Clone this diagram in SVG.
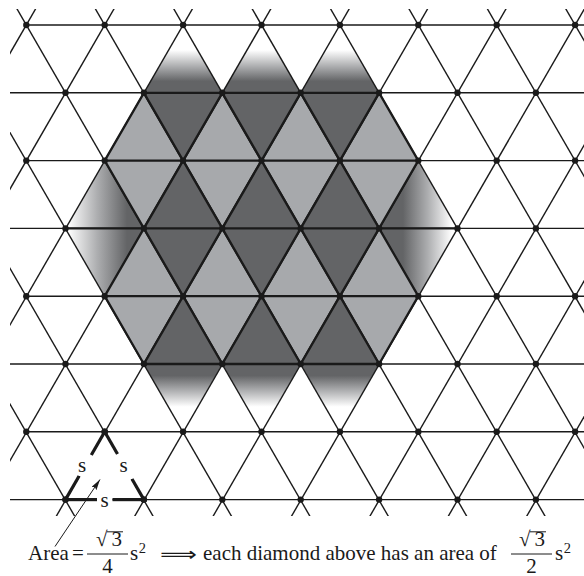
<svg xmlns="http://www.w3.org/2000/svg" width="584" height="576" viewBox="0 0 584 576">
<defs>
<style>
.ln{stroke:#1a1a1a;stroke-width:1.4;fill:none}
.thk{stroke:#1a1a1a;stroke-width:2.3;fill:none}
.lt{fill:#a7a9ac;stroke:#1a1a1a;stroke-width:2.3;stroke-linejoin:round}
.dk{fill:#636466;stroke:#1a1a1a;stroke-width:2.3;stroke-linejoin:round}
.gt{fill:url(#gTop)}
.gb{fill:url(#gBot)}
.nd{fill:#1a1a1a}
.t{font-family:"Liberation Serif","Times New Roman",serif;font-size:21px;fill:#1a1a1a}
.sup{font-family:"Liberation Serif","Times New Roman",serif;font-size:14.5px;fill:#1a1a1a}
.bold{stroke:#1a1a1a;stroke-width:3.2;stroke-linecap:butt;fill:none}
.frac{stroke:#1a1a1a;stroke-width:1}
</style>
<linearGradient id="gTop" gradientUnits="userSpaceOnUse" x1="0" y1="92.8" x2="0" y2="50">
<stop offset="0" stop-color="#636466"/><stop offset="0.27" stop-color="#636466"/><stop offset="0.6" stop-color="#a9aaac"/><stop offset="1" stop-color="#ffffff"/>
</linearGradient>
<linearGradient id="gBot" gradientUnits="userSpaceOnUse" x1="0" y1="364" x2="0" y2="406.8">
<stop offset="0" stop-color="#636466"/><stop offset="0.27" stop-color="#636466"/><stop offset="0.6" stop-color="#a9aaac"/><stop offset="1" stop-color="#ffffff"/>
</linearGradient>
<linearGradient id="gLeft" gradientUnits="userSpaceOnUse" x1="127" y1="0" x2="68" y2="0">
<stop offset="0" stop-color="#636466"/><stop offset="0.5" stop-color="#acadaf"/><stop offset="1" stop-color="#ffffff"/>
</linearGradient>
<linearGradient id="gRight" gradientUnits="userSpaceOnUse" x1="403" y1="0" x2="452" y2="0">
<stop offset="0" stop-color="#636466"/><stop offset="0.5" stop-color="#acadaf"/><stop offset="1" stop-color="#ffffff"/>
</linearGradient>
<clipPath id="clip"><rect x="10" y="9" width="574" height="507"/></clipPath>
<marker id="ah" markerUnits="userSpaceOnUse" markerWidth="12" markerHeight="6" refX="11" refY="3" orient="auto">
<path d="M0,0 L11,3 L0,6 L2,3 z" fill="#1a1a1a"/>
</marker>
</defs>
<rect width="584" height="576" fill="#ffffff"/>

<g id="faded-halves">
<polygon class="gt" points="183.1,25 143.9,92.8 222.3,92.8"/>
<polygon class="gt" points="261.5,25 222.3,92.8 300.7,92.8"/>
<polygon class="gt" points="339.9,25 300.7,92.8 379.1,92.8"/>
<polygon class="gb" points="143.9,364 222.3,364 183.1,431.8"/>
<polygon class="gb" points="222.3,364 300.7,364 261.5,431.8"/>
<polygon class="gb" points="300.7,364 379.1,364 339.9,431.8"/>
<polygon fill="url(#gLeft)" points="104.7,160.6 143.9,228.4 104.7,296.2 65.5,228.4"/>
<polygon fill="url(#gRight)" points="418.3,160.6 457.5,228.4 418.3,296.2 379.1,228.4"/>
</g>

<g id="lattice" class="ln" clip-path="url(#clip)">
<line x1="26.3" y1="25" x2="584" y2="25"/>
<line x1="10" y1="92.8" x2="584" y2="92.8"/>
<line x1="26.3" y1="160.6" x2="584" y2="160.6"/>
<line x1="10" y1="228.4" x2="584" y2="228.4"/>
<line x1="26.3" y1="296.2" x2="584" y2="296.2"/>
<line x1="10" y1="364" x2="584" y2="364"/>
<line x1="26.3" y1="431.8" x2="584" y2="431.8"/>
<line x1="10" y1="499.6" x2="584" y2="499.6"/>
<line x1="-223.33" y1="0" x2="82.66" y2="530"/>
<line x1="-144.93" y1="0" x2="161.06" y2="530"/>
<line x1="-66.53" y1="0" x2="239.46" y2="530"/>
<line x1="11.87" y1="0" x2="317.86" y2="530"/>
<line x1="90.27" y1="0" x2="396.26" y2="530"/>
<line x1="168.67" y1="0" x2="474.66" y2="530"/>
<line x1="247.07" y1="0" x2="553.06" y2="530"/>
<line x1="325.47" y1="0" x2="631.46" y2="530"/>
<line x1="403.87" y1="0" x2="709.86" y2="530"/>
<line x1="482.27" y1="0" x2="788.26" y2="530"/>
<line x1="560.67" y1="0" x2="866.66" y2="530"/>
<line x1="40.73" y1="0" x2="-265.26" y2="530"/>
<line x1="119.13" y1="0" x2="-186.86" y2="530"/>
<line x1="197.53" y1="0" x2="-108.46" y2="530"/>
<line x1="275.93" y1="0" x2="-30.06" y2="530"/>
<line x1="354.33" y1="0" x2="48.34" y2="530"/>
<line x1="432.73" y1="0" x2="126.74" y2="530"/>
<line x1="511.13" y1="0" x2="205.14" y2="530"/>
<line x1="589.53" y1="0" x2="283.54" y2="530"/>
<line x1="667.93" y1="0" x2="361.94" y2="530"/>
<line x1="746.33" y1="0" x2="440.34" y2="530"/>
<line x1="824.73" y1="0" x2="518.74" y2="530"/>
</g>

<g id="light-diamonds">
<polygon class="lt" points="143.9,92.8 183.1,160.6 143.9,228.4 104.7,160.6"/>
<polygon class="lt" points="222.3,92.8 261.5,160.6 222.3,228.4 183.1,160.6"/>
<polygon class="lt" points="300.7,92.8 339.9,160.6 300.7,228.4 261.5,160.6"/>
<polygon class="lt" points="379.1,92.8 418.3,160.6 379.1,228.4 339.9,160.6"/>
<polygon class="lt" points="143.9,228.4 183.1,296.2 143.9,364 104.7,296.2"/>
<polygon class="lt" points="222.3,228.4 261.5,296.2 222.3,364 183.1,296.2"/>
<polygon class="lt" points="300.7,228.4 339.9,296.2 300.7,364 261.5,296.2"/>
<polygon class="lt" points="379.1,228.4 418.3,296.2 379.1,364 339.9,296.2"/>
</g>

<g id="dark-diamonds">
<polygon class="dk" points="183.1,160.6 222.3,228.4 183.1,296.2 143.9,228.4"/>
<polygon class="dk" points="261.5,160.6 300.7,228.4 261.5,296.2 222.3,228.4"/>
<polygon class="dk" points="339.9,160.6 379.1,228.4 339.9,296.2 300.7,228.4"/>
<polygon class="dk" points="143.9,92.8 222.3,92.8 183.1,160.6"/>
<polygon class="dk" points="222.3,92.8 300.7,92.8 261.5,160.6"/>
<polygon class="dk" points="300.7,92.8 379.1,92.8 339.9,160.6"/>
<polygon class="dk" points="183.1,296.2 143.9,364 222.3,364"/>
<polygon class="dk" points="261.5,296.2 222.3,364 300.7,364"/>
<polygon class="dk" points="339.9,296.2 300.7,364 379.1,364"/>
</g>

<g id="inner-edges" class="thk">
<line x1="104.7" y1="160.6" x2="418.3" y2="160.6"/>
<line x1="65.5" y1="228.4" x2="457.5" y2="228.4"/>
<line x1="104.7" y1="296.2" x2="418.3" y2="296.2"/>
</g>

<g id="nodes" class="nd">
<circle cx="26.3" cy="25" r="3.2"/><circle cx="104.7" cy="25" r="3.2"/><circle cx="183.1" cy="25" r="3.2"/><circle cx="261.5" cy="25" r="3.2"/><circle cx="339.9" cy="25" r="3.2"/><circle cx="418.3" cy="25" r="3.2"/><circle cx="496.7" cy="25" r="3.2"/><circle cx="575.1" cy="25" r="3.2"/>
<circle cx="65.5" cy="92.8" r="3.2"/><circle cx="143.9" cy="92.8" r="3.2"/><circle cx="222.3" cy="92.8" r="3.2"/><circle cx="300.7" cy="92.8" r="3.2"/><circle cx="379.1" cy="92.8" r="3.2"/><circle cx="457.5" cy="92.8" r="3.2"/><circle cx="535.9" cy="92.8" r="3.2"/>
<circle cx="26.3" cy="160.6" r="3.2"/><circle cx="104.7" cy="160.6" r="3.2"/><circle cx="183.1" cy="160.6" r="3.2"/><circle cx="261.5" cy="160.6" r="3.2"/><circle cx="339.9" cy="160.6" r="3.2"/><circle cx="418.3" cy="160.6" r="3.2"/><circle cx="496.7" cy="160.6" r="3.2"/><circle cx="575.1" cy="160.6" r="3.2"/>
<circle cx="65.5" cy="228.4" r="3.2"/><circle cx="143.9" cy="228.4" r="3.2"/><circle cx="222.3" cy="228.4" r="3.2"/><circle cx="300.7" cy="228.4" r="3.2"/><circle cx="379.1" cy="228.4" r="3.2"/><circle cx="457.5" cy="228.4" r="3.2"/><circle cx="535.9" cy="228.4" r="3.2"/>
<circle cx="26.3" cy="296.2" r="3.2"/><circle cx="104.7" cy="296.2" r="3.2"/><circle cx="183.1" cy="296.2" r="3.2"/><circle cx="261.5" cy="296.2" r="3.2"/><circle cx="339.9" cy="296.2" r="3.2"/><circle cx="418.3" cy="296.2" r="3.2"/><circle cx="496.7" cy="296.2" r="3.2"/><circle cx="575.1" cy="296.2" r="3.2"/>
<circle cx="65.5" cy="364" r="3.2"/><circle cx="143.9" cy="364" r="3.2"/><circle cx="222.3" cy="364" r="3.2"/><circle cx="300.7" cy="364" r="3.2"/><circle cx="379.1" cy="364" r="3.2"/><circle cx="457.5" cy="364" r="3.2"/><circle cx="535.9" cy="364" r="3.2"/>
<circle cx="26.3" cy="431.8" r="3.2"/><circle cx="104.7" cy="431.8" r="3.2"/><circle cx="183.1" cy="431.8" r="3.2"/><circle cx="261.5" cy="431.8" r="3.2"/><circle cx="339.9" cy="431.8" r="3.2"/><circle cx="418.3" cy="431.8" r="3.2"/><circle cx="496.7" cy="431.8" r="3.2"/><circle cx="575.1" cy="431.8" r="3.2"/>
<circle cx="65.5" cy="499.6" r="3.2"/><circle cx="143.9" cy="499.6" r="3.2"/><circle cx="222.3" cy="499.6" r="3.2"/><circle cx="300.7" cy="499.6" r="3.2"/><circle cx="379.1" cy="499.6" r="3.2"/><circle cx="457.5" cy="499.6" r="3.2"/><circle cx="535.9" cy="499.6" r="3.2"/>
</g>

<g id="unit-triangle">
<rect x="76" y="455" width="18" height="21" fill="#ffffff"/>
<rect x="115" y="454" width="20" height="25" fill="#ffffff"/>
<rect x="97" y="496" width="15.5" height="7" fill="#ffffff"/>
<line class="bold" x1="104.7" y1="431.8" x2="91.3" y2="455"/>
<line class="bold" x1="79.1" y1="476" x2="65.5" y2="499.6"/>
<line class="bold" x1="104.7" y1="431.8" x2="117.5" y2="454"/>
<line class="bold" x1="132" y1="479" x2="143.9" y2="499.6"/>
<line class="bold" x1="65.5" y1="499.6" x2="97" y2="499.6"/>
<line class="bold" x1="112.5" y1="499.6" x2="143.9" y2="499.6"/>
<circle class="nd" cx="104.7" cy="431.8" r="3.2"/>
<circle class="nd" cx="65.5" cy="499.6" r="3.2"/>
<circle class="nd" cx="143.9" cy="499.6" r="3.2"/>
<text class="t" x="82" y="471.5" text-anchor="middle">s</text>
<text class="t" x="123.5" y="471.5" text-anchor="middle">s</text>
<text class="t" x="104.7" y="506.5" text-anchor="middle">s</text>
</g>

<g id="connectors">
<line x1="55" y1="546.5" x2="100" y2="479.5" stroke="#1a1a1a" stroke-width="1" marker-end="url(#ah)"/>
</g>

<g id="caption">
<text class="t" x="28" y="560">Area</text>
<text class="t" x="72" y="560">=</text>
<text class="t" x="96" y="546" font-size="22">√</text>
<line class="frac" x1="107" y1="531.8" x2="123" y2="531.8"/>
<text class="t" x="111.5" y="546">3</text>
<line class="frac" x1="87" y1="554" x2="128" y2="554"/>
<text class="t" x="107.5" y="572.5" text-anchor="middle">4</text>
<text class="t" x="130" y="560">s</text>
<text class="sup" x="138.8" y="553">2</text>
<text x="160" y="561" font-family="DejaVu Sans, sans-serif" font-size="20" fill="#1a1a1a" textLength="37" lengthAdjust="spacingAndGlyphs">⟹</text>
<text class="t" x="203" y="560" font-size="21.4">each diamond above has an area of</text>
<text class="t" x="519" y="546" font-size="22">√</text>
<line class="frac" x1="530" y1="531.8" x2="546" y2="531.8"/>
<text class="t" x="534.5" y="546">3</text>
<line class="frac" x1="511" y1="554" x2="552" y2="554"/>
<text class="t" x="531.5" y="572.5" text-anchor="middle">2</text>
<text class="t" x="555" y="560">s</text>
<text class="sup" x="563.8" y="553">2</text>
</g>
</svg>
